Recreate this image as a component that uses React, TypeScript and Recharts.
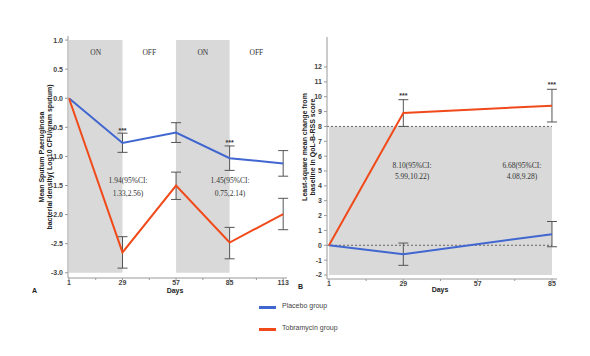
import React from "react";
import {
  ComposedChart,
  Line,
  XAxis,
  YAxis,
  ErrorBar,
  ReferenceArea,
  ReferenceLine,
  ReferenceDot,
} from "recharts";

// panel A: sputum bacterial density
const daysA = [1, 29, 57, 85, 113];
const placeboA = [0, -0.77, -0.59, -1.03, -1.12];
const placeboLowA = [null, -0.93, -0.76, -1.24, -1.34];
const placeboHighA = [null, -0.6, -0.42, -0.82, -0.9];
const tobraA = [0, -2.65, -1.5, -2.48, -1.99];
const tobraLowA = [null, -2.92, -1.74, -2.76, -2.26];
const tobraHighA = [null, -2.38, -1.27, -2.22, -1.72];
const ticksXA = [1, 15, 29, 43, 57, 71, 85, 99, 113];
const ticksYA = [-3, -2.5, -2, -1.5, -1, -0.5, 0, 0.5, 1];

// panel B: QoL-B-RSS score
const daysB = [1, 29, 85];
const placeboB = [0, -0.6, 0.75];
const placeboLowB = [null, -1.35, -0.1];
const placeboHighB = [null, 0.15, 1.6];
const tobraB = [0, 8.9, 9.4];
const tobraLowB = [null, 8.0, 8.3];
const tobraHighB = [null, 9.8, 10.5];
const ticksXB = [1, 15, 29, 43, 57, 71, 85];
const ticksYB = [-2, -1, 0, 1, 2, 3, 4, 5, 6, 7, 8, 9, 10, 11, 12];
const labeledDays = [1, 29, 57, 85, 113];

// annotations [day, value, text]
const starsA: [number, number][] = [[29, -0.53], [85, -0.75]];
const ciA: [number, number, string][] = [
  [31.9, -1.42, "1.94(95%CI:"],
  [31.9, -1.63, "1.33,2.56)"],
  [85.2, -1.42, "1.45(95%CI:"],
  [85.2, -1.63, "0.75,2.14)"],
];
const starsB: [number, number][] = [[29, 10.18], [85, 10.86]];
const ciB: [number, number, string][] = [
  [32.3, 5.34, "8.10(95%CI:"],
  [32.3, 4.6, "5.99,10.22)"],
  [73.7, 5.34, "6.68(95%CI:"],
  [73.7, 4.6, "4.08,9.28)"],
];

const BLUE = "#4066d0";
const RED = "#f04a1a";
const SHADE = "#d9d9d9";

const err = (m: number, lo: number | null, hi: number | null) =>
  lo == null || hi == null ? undefined : [m - lo, hi - m];

const rowsA = daysA.map((d, i) => ({
  day: d,
  placebo: placeboA[i],
  placeboErr: err(placeboA[i], placeboLowA[i], placeboHighA[i]),
  tobra: tobraA[i],
  tobraErr: err(tobraA[i], tobraLowA[i], tobraHighA[i]),
}));

const rowsB = daysB.map((d, i) => ({
  day: d,
  placebo: placeboB[i],
  placeboErr: err(placeboB[i], placeboLowB[i], placeboHighB[i]),
  tobra: tobraB[i],
  tobraErr: err(tobraB[i], tobraLowB[i], tobraHighB[i]),
}));

const tickStyle = { fontSize: 7, fontWeight: 700, fill: "#444", fontFamily: "Liberation Sans" };
const fmtDay = (v: number) => (labeledDays.includes(v) ? String(v) : "");

// plain svg text for annotations so the colour is not inherited
const note = (text: string, sans: boolean, dy = 0) => (props: any) => {
  const vb = props.viewBox || {};
  const x = vb.x + (vb.width || 0) / 2;
  const y = vb.y + (vb.height || 0) / 2 + dy;
  return (
    <text x={x} y={y} textAnchor="middle" dominantBaseline="central" fill="#333" stroke="none"
      fontSize={sans ? 7 : 7.5} fontWeight={sans ? 700 : 400}
      fontFamily={sans ? "Liberation Sans" : "Liberation Serif"}>
      {text}
    </text>
  );
};

const topNote = (text: string) => (props: any) => {
  const vb = props.viewBox || {};
  return (
    <text x={vb.x + vb.width / 2} y={vb.y + 12} textAnchor="middle" dominantBaseline="central"
      fill="#333" fontSize={7.5} fontFamily="Liberation Serif">
      {text}
    </text>
  );
};

const abs = (left: number, top: number): React.CSSProperties => ({
  position: "absolute",
  left,
  top,
  fontFamily: "Liberation Sans",
  fontSize: 7,
  fontWeight: 700,
  color: "#222",
  whiteSpace: "nowrap",
});

const rotated = (cx: number, cy: number): React.CSSProperties => ({
  ...abs(cx, cy),
  transform: "translate(-50%,-50%) rotate(-90deg)",
  textAlign: "center",
  lineHeight: "8px",
});

export default function App() {
  return (
    <div style={{ position: "absolute", left: 0, top: 0, width: 590, height: 356, background: "#fff" }}>
      <div style={{ position: "absolute", left: 0, top: 0 }}>
        <ComposedChart width={300} height={300} data={rowsA} margin={{ top: 36, right: 13, bottom: 8, left: 0 }}>
          <ReferenceArea x1={1} x2={29} y1={-3} y2={1} fill={SHADE} fillOpacity={1} stroke="none"
            label={topNote("ON")} />
          <ReferenceArea x1={29} x2={57} y1={-3} y2={1} fill="none" fillOpacity={0} stroke="none"
            label={topNote("OFF")} />
          <ReferenceArea x1={57} x2={85} y1={-3} y2={1} fill={SHADE} fillOpacity={1} stroke="none"
            label={topNote("ON")} />
          <ReferenceArea x1={85} x2={113} y1={-3} y2={1} fill="none" fillOpacity={0} stroke="none"
            label={topNote("OFF")} />
          <XAxis type="number" dataKey="day" domain={[0.5, 115]} allowDataOverflow ticks={ticksXA}
            tickFormatter={fmtDay} tick={tickStyle} tickSize={2} tickMargin={0} height={14}
            stroke="#999" interval={0} />
          <YAxis type="number" domain={[-3.09, 1.07]} allowDataOverflow ticks={ticksYA}
            tickFormatter={(v: number) => v.toFixed(1)} tick={tickStyle} tickSize={3} tickMargin={2}
            width={68} stroke="#999" interval={0} />
          <Line dataKey="placebo" stroke={BLUE} strokeWidth={2} dot={false} isAnimationActive={false}>
            <ErrorBar dataKey="placeboErr" stroke="#555" strokeWidth={1} width={5} direction="y" />
          </Line>
          <Line dataKey="tobra" stroke={RED} strokeWidth={2} dot={false} isAnimationActive={false}>
            <ErrorBar dataKey="tobraErr" stroke="#555" strokeWidth={1} width={5} direction="y" />
          </Line>
          {starsA.map(([x, y], i) => (
            <ReferenceDot key={"sa" + i} x={x} y={y} r={0} fill="none" stroke="none"
              label={note("***", true, 1)} />
          ))}
          {ciA.map(([x, y, t], i) => (
            <ReferenceDot key={"ca" + i} x={x} y={y} r={0} fill="none" stroke="none"
              label={note(t, false)} />
          ))}
        </ComposedChart>
      </div>

      <div style={{ position: "absolute", left: 290, top: 0 }}>
        <ComposedChart width={280} height={300} data={rowsB} margin={{ top: 37, right: 13, bottom: 7, left: 0 }}>
          <ReferenceArea x1={1} x2={85} y1={-2} y2={8} fill={SHADE} fillOpacity={1} stroke="none" />
          <ReferenceLine segment={[{ x: 0.25, y: 8 }, { x: 85, y: 8 }]} stroke="#666" strokeDasharray="2 2" />
          <ReferenceLine segment={[{ x: 0.25, y: 0 }, { x: 85, y: 0 }]} stroke="#666" strokeDasharray="2 2" />
          <XAxis type="number" dataKey="day" domain={[0.25, 86.9]} allowDataOverflow ticks={ticksXB}
            tickFormatter={fmtDay} tick={tickStyle} tickSize={2} tickMargin={0} height={14}
            stroke="#999" interval={0} />
          <YAxis type="number" domain={[-2.27, 14.02]} allowDataOverflow ticks={ticksYB}
            tick={tickStyle} tickSize={3} tickMargin={2} width={37} stroke="#999" interval={0} />
          <Line dataKey="placebo" stroke={BLUE} strokeWidth={2} dot={false} isAnimationActive={false}>
            <ErrorBar dataKey="placeboErr" stroke="#555" strokeWidth={1} width={5} direction="y" />
          </Line>
          <Line dataKey="tobra" stroke={RED} strokeWidth={2} dot={false} isAnimationActive={false}>
            <ErrorBar dataKey="tobraErr" stroke="#555" strokeWidth={1} width={5} direction="y" />
          </Line>
          {starsB.map(([x, y], i) => (
            <ReferenceDot key={"sb" + i} x={x} y={y} r={0} fill="none" stroke="none"
              label={note("***", true, 1)} />
          ))}
          {ciB.map(([x, y, t], i) => (
            <ReferenceDot key={"cb" + i} x={x} y={y} r={0} fill="none" stroke="none"
              label={note(t, false)} />
          ))}
        </ComposedChart>
      </div>

      <div style={rotated(46, 157)}>
        Mean Sputum P.aeruginosa
        <br />
        bacterial density( Log10 CFU/gram sputum)
      </div>
      <div style={rotated(309, 147)}>
        Least-square mean change from
        <br />
        baseline in QoL-B-RSS score
      </div>

      <div style={abs(32, 287)}>A</div>
      <div style={{ ...abs(175, 287), transform: "translateX(-50%)" }}>Days</div>
      <div style={abs(298, 283)}>B</div>
      <div style={{ ...abs(440, 286), transform: "translateX(-50%)" }}>Days</div>

      <div style={{ position: "absolute", left: 259, top: 306, width: 17, height: 2.5, background: BLUE }} />
      <div style={{ ...abs(282, 302), fontWeight: 400, color: "#444" }}>Placebo group</div>
      <div style={{ position: "absolute", left: 259, top: 328, width: 17, height: 2.5, background: RED }} />
      <div style={{ ...abs(282, 324), fontWeight: 400, color: "#444" }}>Tobramycin group</div>
    </div>
  );
}
